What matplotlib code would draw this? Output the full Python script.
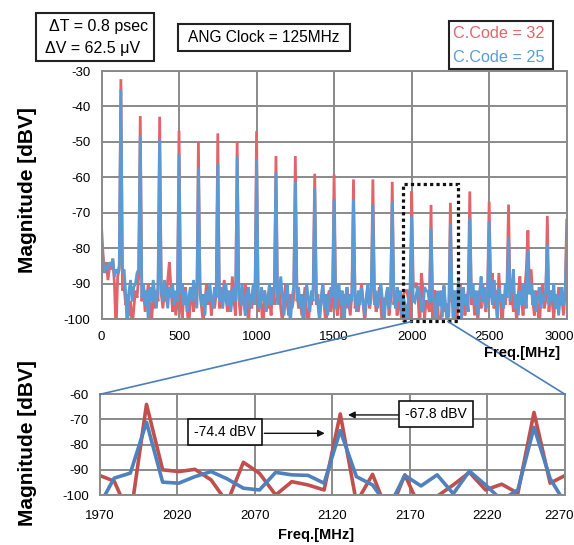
import numpy as np
import matplotlib
matplotlib.use("Agg")
import matplotlib.pyplot as plt
from matplotlib import patches, font_manager
from matplotlib.lines import Line2D
from matplotlib.transforms import ScaledTranslation

# ---------------- data ----------------
BIN_MHZ = 125.0 / 12.0          # FFT bin spacing
PEAK_FREQS = [125, 250, 375, 500, 625, 750, 875, 1000, 1125, 1250, 1375, 1500,
              1625, 1750, 1875, 2000, 2125, 2250, 2375, 2500, 2625, 2750, 2875, 3000]

red_peaks = [-32.3, -42.7, -42.9, -46.9, -50.0, -47.6, -50.0, -47.0, -54.0, -54.0, -59.0, -59.2,
             -60.6, -60.6, -61.3, -64.0, -67.8, -67.2, -64.0, -66.9, -67.7, -75.0, -70.9, -72.1]
blue_peaks = [-35.2, -48.3, -49.3, -53.5, -57.3, -56.3, -54.2, -54.9, -58.7, -61.3, -63.2, -66.2,
              -66.2, -67.9, -66.7, -71.1, -74.4, -73.1, -71.4, -72.5, -76.8, -80.6, -78.9, -78.2]

# noise floor between harmonics (first segment starts at DC)
red_floor = [
    [-74, -82, -87, -84, -89, -85, -86, -83, -90, -104, -88, -86],
    [-92, -91, -96, -93, -99, -95, -103, -97, -92, -94, -88],
    [-95, -91, -98, -94, -90, -96, -101, -93, -97, -92, -95],
    [-93, -97, -92, -95, -89, -84, -91, -98, -94, -99, -95],
    [-96, -100, -93, -91, -97, -103, -95, -92, -98, -94, -96],
    [-93, -97, -101, -95, -90, -96, -92, -99, -94, -97, -93],
    [-97, -92, -95, -89, -94, -98, -93, -96, -88, -95, -99],
    [-94, -99, -92, -96, -90, -95, -102, -93, -97, -91, -96],
    [-98, -93, -96, -104, -92, -95, -97, -94, -99, -91, -96],
    [-95, -92, -97, -101, -94, -90, -96, -99, -93, -97, -94],
    [-92, -97, -94, -99, -95, -91, -98, -103, -94, -96, -92],
    [-96, -93, -99, -95, -90, -97, -102, -94, -92, -98, -95],
    [-94, -99, -92, -96, -104, -93, -97, -91, -95, -99, -93],
    [-97, -93, -98, -94, -90, -96, -101, -95, -92, -97, -94],
    [-93, -98, -95, -91, -97, -103, -94, -96, -92, -99, -95],
    [-96, -92, -99, -94, -97, -101, -93, -92, -92, -94.5, -109],
    [-90, -90.7, -89.8, -94, -103, -87, -91.4, -100, -94.7, -96, -98],
    [-103, -91.8, -108, -92, -106, -100.5, -96, -91, -98, -95.7, -99.3],
    [-95.3, -92, -97, -101, -94, -90, -96, -93, -99, -95, -92],
    [-96, -93, -99, -94, -101, -92, -97, -90, -95, -98, -93],
    [-94, -87, -97, -92, -99, -87, -95, -103, -93, -96, -91],
    [-96, -92, -98, -94, -101, -93, -88, -95, -99, -92, -86],
    [-93, -86, -95, -99, -92, -96, -103, -94, -90, -97, -95],
    [-98, -92, -95, -100, -93, -97, -91, -96, -94, -99, -93],
]
blue_floor = [
    [-77, -84, -87, -85, -86, -84, -85, -83, -88, -86, -87, -85],
    [-87, -86, -93, -104, -92, -89, -95, -91, -90, -87, -86],
    [-94, -90, -96, -92, -101, -91, -95, -89, -93, -97, -90],
    [-92, -95, -89, -93, -97, -91, -94, -90, -96, -92, -95],
    [-93, -90, -96, -92, -98, -94, -91, -95, -89, -93, -97],
    [-91, -96, -93, -99, -92, -95, -90, -94, -97, -91, -94],
    [-95, -91, -97, -93, -90, -96, -92, -98, -94, -91, -95],
    [-92, -96, -90, -95, -99, -93, -91, -97, -94, -90, -96],
    [-93, -97, -91, -95, -92, -98, -94, -90, -96, -93, -91],
    [-96, -92, -88, -94, -99, -93, -90, -97, -101, -94, -91],
    [-95, -91, -97, -93, -104, -96, -90, -94, -98, -92, -95],
    [-92, -96, -101, -94, -90, -97, -93, -99, -95, -91, -94],
    [-97, -93, -90, -96, -92, -105, -94, -91, -97, -93, -95],
    [-94, -98, -92, -96, -91, -95, -99, -93, -90, -96, -92],
    [-96, -92, -97, -93, -90, -95, -101, -94, -91, -97, -93],
    [-93, -97, -91, -95, -92, -99, -94, -96, -105, -93.3, -91.3],
    [-94.9, -95.3, -92.7, -90.7, -93.6, -97.3, -98, -91, -92, -92.2, -95.3],
    [-92.7, -96, -105, -92.2, -96.4, -92, -99.5, -90.5, -96, -102, -98],
    [-93.5, -104, -92, -97, -89, -94, -100, -91, -96, -93, -98],
    [-94, -90, -96, -92, -99, -93, -88, -95, -91, -97, -94],
    [-92, -96, -89, -94, -100, -91, -95, -93, -97, -90, -94],
    [-95, -91, -86, -97, -93, -99, -92, -96, -90, -94, -97],
    [-93, -90, -96, -92, -98, -94, -91, -97, -93, -95, -92],
    [-96, -92, -95, -90, -97, -93, -99, -94, -91, -96, -93],
]

TOP_XTICKS = [0, 500, 1000, 1500, 2000, 2500, 3000]
TOP_YTICKS = [-30, -40, -50, -60, -70, -80, -90, -100]
ZOOM_XTICKS = [1970, 2020, 2070, 2120, 2170, 2220, 2270]
ZOOM_YTICKS = [-60, -70, -80, -90, -100]


def build_spectrum(floor, peaks):
    vals = []
    for seg, pk in zip(floor, peaks):
        vals.extend(seg)
        vals.append(pk)
    return np.array(vals, dtype=float)


red = build_spectrum(red_floor, red_peaks)
blue = build_spectrum(blue_floor, blue_peaks)
freq = np.arange(len(red)) * BIN_MHZ

# ---------------- style ----------------
names = {f.name for f in font_manager.fontManager.ttflist}
BASE = "Liberation Sans" if "Liberation Sans" in names else "DejaVu Sans"
NARROW = "Liberation Sans Narrow" if "Liberation Sans Narrow" in names else BASE
TICK_SIZE = 10.5 if NARROW != BASE else 9.5
plt.rcParams["font.family"] = [BASE, "DejaVu Sans"]
plt.rcParams["axes.unicode_minus"] = False

GRID = "#8a8a8a"
RED_TOP, BLUE_TOP = "#e0646a", "#5b9bd5"
RED_BOT, BLUE_BOT = "#c0504d", "#4f81bd"

W, H = 574, 545
fig = plt.figure(figsize=(W / 100, H / 100), dpi=100)


def fx(x):
    return x / W


def fy(y):
    return 1 - y / H


def style_axes(ax, xticks, yticks, xpad, ypad):
    ax.set_xticks(xticks)
    ax.set_yticks(yticks)
    ax.grid(True, color=GRID, lw=1.4)
    ax.set_axisbelow(True)
    for s in ax.spines.values():
        s.set_color(GRID)
        s.set_linewidth(1.4)
    ax.tick_params(length=0, labelsize=TICK_SIZE)
    ax.tick_params(axis="x", pad=xpad)
    ax.tick_params(axis="y", pad=ypad)
    for lab in ax.get_xticklabels() + ax.get_yticklabels():
        lab.set_family([NARROW, BASE])


def nudge_last_xlabel(ax, px):
    lab = ax.get_xticklabels()[-1]
    lab.set_transform(lab.get_transform() + ScaledTranslation(px / 100, 0, fig.dpi_scale_trans))


# ---------------- full spectrum ----------------
ax1 = fig.add_axes([fx(101.5), fy(319), (566.7 - 101.5) / W, (319 - 71) / H])
ax1.plot(freq, red, color=RED_TOP, lw=2.0, solid_joinstyle="miter")
ax1.plot(freq, blue, color=BLUE_TOP, lw=2.0, solid_joinstyle="miter")
ax1.set_xlim(0, 3000)
ax1.set_ylim(-100, -30)
style_axes(ax1, TOP_XTICKS, TOP_YTICKS, 9, 8)
nudge_last_xlabel(ax1, -7)

# dotted zoom window
ax1.add_patch(patches.Rectangle((1946, -100.6), 351, 38.6, fill=False, ec="#111111",
                                lw=2.3, ls=(0, (1, 1)), clip_on=False, zorder=5))

# ---------------- zoomed view ----------------
ax2 = fig.add_axes([fx(100), fy(495), (565 - 100) / W, (495 - 394.3) / H])
ax2.plot(freq, red, color=RED_BOT, lw=2.6)
ax2.plot(freq, blue, color=BLUE_BOT, lw=2.6)
ax2.set_xlim(1970, 2270)
ax2.set_ylim(-100, -60)
style_axes(ax2, ZOOM_XTICKS, ZOOM_YTICKS, 11, 8)
nudge_last_xlabel(ax2, -6)

box = dict(boxstyle="square,pad=0.45", fc="white", ec="#111111", lw=1.2)
ax2.text(2050.5, -75.0, "-74.4 dBV", fontsize=10, ha="center", va="center", bbox=box, zorder=6)
ax2.text(2187.0, -67.9, "-67.8 dBV", fontsize=10, ha="center", va="center", bbox=box, zorder=6)
arrow = dict(arrowstyle="-|>", color="#111111", lw=1.0, mutation_scale=10, shrinkA=0, shrinkB=0)
ax2.annotate("", xy=(2115, -75.5), xytext=(2076, -75.5), arrowprops=arrow)
ax2.annotate("", xy=(2130, -68.2), xytext=(2163, -68.2), arrowprops=arrow)

# connector lines from the dotted window to the zoomed axes
for (x0, y0), (x1, y1) in [((100, 394.3), (411.7, 321.5)), ((448, 321.5), (565, 394.3))]:
    fig.add_artist(Line2D([fx(x0), fx(x1)], [fy(y0), fy(y1)], transform=fig.transFigure,
                          color="#4a7ebb", lw=1.2))

# ---------------- labels ----------------
fig.text(fx(28), fy(190), "Magnitude [dBV]", rotation=90, ha="center", va="center",
         fontsize=15, fontweight="bold")
fig.text(fx(28), fy(443), "Magnitude [dBV]", rotation=90, ha="center", va="center",
         fontsize=15, fontweight="bold")
fig.text(fx(522), fy(353), "Freq.[MHz]", ha="center", va="center", fontsize=10.5, fontweight="bold")
fig.text(fx(316), fy(535), "Freq.[MHz]", ha="center", va="center", fontsize=10.5, fontweight="bold")


def fig_box(x0, y0, x1, y1):
    fig.add_artist(patches.Rectangle((fx(x0), fy(y1)), (x1 - x0) / W, (y1 - y0) / H,
                                     transform=fig.transFigure, fc="white", ec="#222222", lw=1.5))


fig_box(36, 13, 154, 61)
fig.text(fx(148), fy(26), "ΔT = 0.8 psec", ha="right", va="center", fontsize=11.5)
fig.text(fx(45), fy(49), "ΔV = 62.5 μV", ha="left", va="center", fontsize=11.5)

fig_box(178, 24, 350, 51)
fig.text(fx(264), fy(38), "ANG Clock = 125MHz", ha="center", va="center", fontsize=11.2)

fig_box(449, 21, 553, 69)
fig.text(fx(453), fy(33.5), "C.Code = 32", ha="left", va="center", fontsize=11.7, color=RED_TOP)
fig.text(fx(453), fy(57.5), "C.Code = 25", ha="left", va="center", fontsize=11.7, color=BLUE_TOP)

fig.savefig("out.png", dpi=100)
